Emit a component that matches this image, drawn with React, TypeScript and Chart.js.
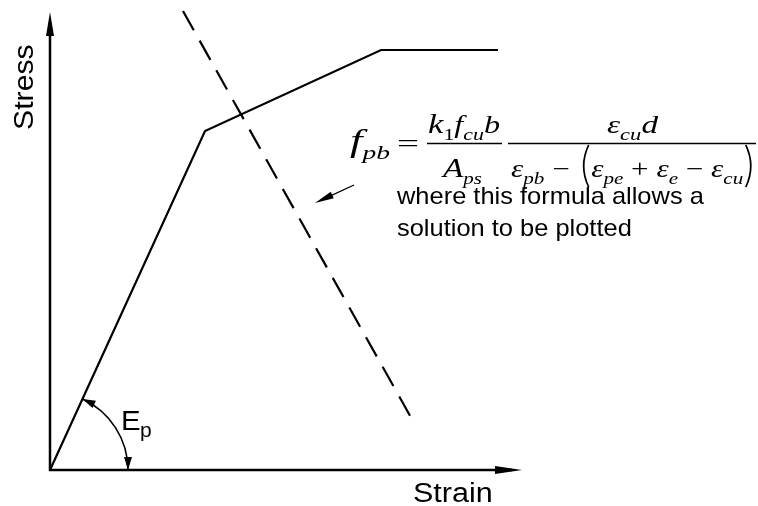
import { useEffect, useRef } from 'react';
import { Chart, registerables } from 'chart.js';

Chart.register(...registerables);

// Trilinear stress–strain curve of the prestressing steel
const STRAIN = [0, 15.5, 33.1, 44.8];
const STRESS = [0, 33.9, 42.0, 42.0];

// Straight line given by the strain-compatibility formula
const SOLUTION_STRAIN = [13.3, 36.3];
const SOLUTION_STRESS = [45.9, 4.9];

// Axis extents (arrow tips)
const STRAIN_AXIS_END = 47.2;
const STRESS_AXIS_END = 45.8;

// Leader arrow from the note to the dashed line
const POINTER_FROM = [30.4, 28.5];
const POINTER_TO = [26.5, 26.7];

const X_LABEL = 'Strain';
const Y_LABEL = 'Stress';
const MODULUS_LABEL = ['E', 'p'];
const NOTE_LINES = ['where this formula allows a', 'solution to be plotted'];

const SANS = '"Liberation Sans", Arial, Helvetica, sans-serif';
const SERIF = '"Liberation Serif", "Times New Roman", serif';

type Part = { t: string; size: number; italic: boolean; dy: number; paren?: 'open' | 'close' };
const M = (t: string): Part => ({ t, size: 25, italic: true, dy: 0 });
const S = (t: string): Part => ({ t, size: 17, italic: true, dy: 7 });
const SU = (t: string): Part => ({ t, size: 17, italic: false, dy: 7 });
const U = (t: string, size = 25): Part => ({ t, size, italic: false, dy: 0 });
const P = (kind: 'open' | 'close'): Part => ({ t: '', size: 25, italic: false, dy: 0, paren: kind });

const PAREN_W = 11;

function partFont(p: Part) {
  return `${p.italic ? 'italic ' : ''}${p.size}px ${SERIF}`;
}

// Draws a run of glyphs, stretched horizontally so that it spans x0..x1
function fitRun(ctx: CanvasRenderingContext2D, parts: Part[], x0: number, x1: number, base: number) {
  const widths = parts.map((p) => {
    if (p.paren) return PAREN_W;
    ctx.font = partFont(p);
    return ctx.measureText(p.t).width;
  });
  const total = widths.reduce((a, b) => a + b, 0);
  const sx = (x1 - x0) / total;
  ctx.save();
  ctx.translate(x0, base);
  ctx.scale(sx, 1);
  let x = 0;
  parts.forEach((p, i) => {
    if (p.paren) {
      // tall thin bracket spanning the denominator
      const top = -32;
      const bottom = 10;
      const mid = (top + bottom) / 2;
      const inner = p.paren === 'open' ? x + 9 : x + 2;
      const outer = p.paren === 'open' ? x + 1 : x + 10;
      ctx.lineWidth = 1.4;
      ctx.beginPath();
      ctx.moveTo(inner, top);
      ctx.quadraticCurveTo(outer, mid, inner, bottom);
      ctx.stroke();
    } else {
      ctx.font = partFont(p);
      ctx.fillText(p.t, x, p.dy);
    }
    x += widths[i];
  });
  ctx.restore();
}

function stretchedText(ctx: CanvasRenderingContext2D, text: string, x: number, y: number, font: string, sx: number) {
  ctx.save();
  ctx.font = font;
  ctx.translate(x, y);
  ctx.scale(sx, 1);
  ctx.fillText(text, 0, 0);
  ctx.restore();
}

function arrowHead(ctx: CanvasRenderingContext2D, tx: number, ty: number, dx: number, dy: number, len: number, half: number) {
  const n = Math.hypot(dx, dy);
  const ux = dx / n;
  const uy = dy / n;
  const bx = tx - ux * len;
  const by = ty - uy * len;
  ctx.beginPath();
  ctx.moveTo(tx, ty);
  ctx.lineTo(bx - uy * half, by + ux * half);
  ctx.lineTo(bx + uy * half, by - ux * half);
  ctx.closePath();
  ctx.fill();
}

const diagramDecor = {
  id: 'diagramDecor',
  afterDatasetsDraw(chart: Chart) {
    const ctx = chart.ctx;
    const xs = chart.scales.x;
    const ys = chart.scales.y;
    const ox = xs.getPixelForValue(0);
    const oy = ys.getPixelForValue(0);
    ctx.save();
    ctx.strokeStyle = '#000';
    ctx.fillStyle = '#000';
    ctx.textBaseline = 'alphabetic';
    ctx.textAlign = 'left';

    // Axes with arrow tips
    const xEnd = xs.getPixelForValue(STRAIN_AXIS_END);
    const yEnd = ys.getPixelForValue(STRESS_AXIS_END);
    ctx.lineWidth = 2.5;
    ctx.beginPath();
    ctx.moveTo(ox - 1.2, oy);
    ctx.lineTo(xEnd - 10, oy);
    ctx.moveTo(ox, oy + 1.2);
    ctx.lineTo(ox, yEnd + 10);
    ctx.stroke();
    arrowHead(ctx, xEnd, oy, 1, 0, 27, 4);
    arrowHead(ctx, ox, yEnd, 0, -1, 24, 4);

    // Modulus arc between the x-axis and the elastic branch
    const kx = xs.getPixelForValue(STRAIN[1]);
    const ky = ys.getPixelForValue(STRESS[1]);
    const theta = Math.atan2(oy - ky, kx - ox);
    const r = 78;
    ctx.lineWidth = 1.6;
    ctx.beginPath();
    ctx.arc(ox, oy, r, -theta, 0, false);
    ctx.stroke();
    arrowHead(ctx, ox + r * Math.cos(theta), oy - r * Math.sin(theta), -Math.sin(theta), -Math.cos(theta), 13, 4);
    arrowHead(ctx, ox + r, oy, 0, 1, 13, 4);
    stretchedText(ctx, MODULUS_LABEL[0], 121, 430, `28px ${SANS}`, 1.05);
    stretchedText(ctx, MODULUS_LABEL[1], 140, 437, `20px ${SANS}`, 1.05);

    // Leader arrow
    const px0 = xs.getPixelForValue(POINTER_FROM[0]);
    const py0 = ys.getPixelForValue(POINTER_FROM[1]);
    const px1 = xs.getPixelForValue(POINTER_TO[0]);
    const py1 = ys.getPixelForValue(POINTER_TO[1]);
    ctx.lineWidth = 1.3;
    ctx.beginPath();
    ctx.moveTo(px0, py0);
    ctx.lineTo(px1 + (px0 - px1) * 0.3, py1 + (py0 - py1) * 0.3);
    ctx.stroke();
    arrowHead(ctx, px1, py1, px1 - px0, py1 - py0, 19, 3.6);

    // Axis titles
    stretchedText(ctx, X_LABEL, 413, 502, `27px ${SANS}`, 1.13);
    ctx.save();
    ctx.translate(33, 130);
    ctx.rotate(-Math.PI / 2);
    ctx.scale(1.12, 1);
    ctx.font = `27px ${SANS}`;
    ctx.fillText(Y_LABEL, 0, 0);
    ctx.restore();

    // Formula
    fitRun(ctx, [{ t: 'f', size: 31, italic: true, dy: 0 }, { t: 'pb', size: 19, italic: true, dy: 8 }], 350, 390, 151);
    fitRun(ctx, [U('=', 26)], 397, 419, 152);
    fitRun(ctx, [{ t: 'k', size: 27, italic: true, dy: 0 }, SU('1'), M('f'), S('cu'), M('b')], 428, 500, 133);
    fitRun(ctx, [{ t: 'A', size: 27, italic: true, dy: 0 }, S('ps')], 443, 482, 177);
    fitRun(ctx, [M('ε'), S('cu'), M('d')], 607, 658, 133);
    fitRun(
      ctx,
      [M('ε'), S('pb'), U(' − '), P('open'), M('ε'), S('pe'), U(' + '), M('ε'), S('e'), U(' − '), M('ε'), S('cu'), P('close')],
      511,
      757,
      177,
    );
    ctx.lineWidth = 1.5;
    ctx.beginPath();
    ctx.moveTo(427, 143.5);
    ctx.lineTo(502, 143.5);
    ctx.moveTo(508, 143.5);
    ctx.lineTo(756, 143.5);
    ctx.stroke();

    // Note under the formula
    stretchedText(ctx, NOTE_LINES[0], 397, 204, `24px ${SANS}`, 1.06);
    stretchedText(ctx, NOTE_LINES[1], 397, 236, `24px ${SANS}`, 1.06);

    ctx.restore();
  },
};

export default function App() {
  const canvasRef = useRef<HTMLCanvasElement | null>(null);

  useEffect(() => {
    const canvas = canvasRef.current;
    if (!canvas) return;
    const chart = new Chart(canvas, {
      type: 'scatter',
      data: {
        datasets: [
          {
            data: STRAIN.map((x, i) => ({ x, y: STRESS[i] })),
            showLine: true,
            borderColor: '#000',
            borderWidth: 2.2,
            pointRadius: 0,
            tension: 0,
            clip: false,
          },
          {
            data: SOLUTION_STRAIN.map((x, i) => ({ x, y: SOLUTION_STRESS[i] })),
            showLine: true,
            borderColor: '#000',
            borderWidth: 2.2,
            borderDash: [22, 12],
            pointRadius: 0,
            clip: false,
          },
        ],
      },
      options: {
        responsive: false,
        animation: false,
        layout: { padding: { left: 50, top: 10, right: 228, bottom: 36 } },
        scales: {
          x: { type: 'linear', min: 0, max: 48, display: false },
          y: { type: 'linear', min: 0, max: 46, display: false },
        },
        plugins: {
          legend: { display: false },
          tooltip: { enabled: false },
        },
        events: [],
      },
      plugins: [diagramDecor],
    });
    return () => chart.destroy();
  }, []);

  return (
    <div style={{ position: 'fixed', left: 0, top: 0, width: 758, height: 506, background: '#fff' }}>
      <canvas ref={canvasRef} width={758} height={506} />
    </div>
  );
}
